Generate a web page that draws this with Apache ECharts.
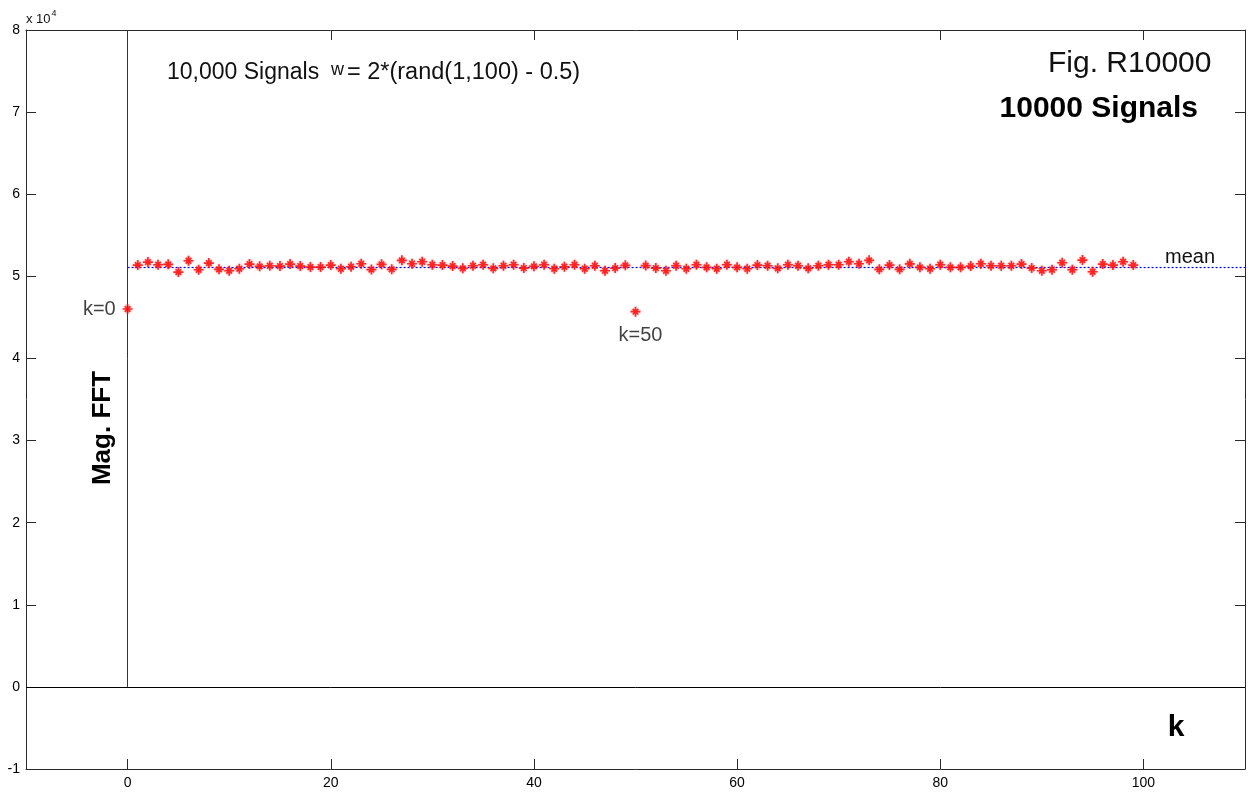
<!DOCTYPE html>
<html>
<head>
<meta charset="utf-8">
<title>Mag. FFT - 10000 Signals</title>
<script src="https://cdn.jsdelivr.net/npm/echarts@6/dist/echarts.min.js"></script>
<style>
  html, body { margin: 0; padding: 0; background: #fff; }
  #chart { width: 1249px; height: 794px; }
</style>
</head>
<body>
<div id="chart"></div>
<script>
// FFT magnitude for each bin k = 0..99 (averaged over 10000 random signals)
const magnitudes = [
  46020, 51373, 51738, 51409, 51458, 50521, 51896, 50801, 51616, 50850,
  50679, 50923, 51494, 51215, 51288, 51251, 51494, 51251, 51130, 51130,
  51373, 50923, 51166, 51531, 50825, 51458, 50850, 51945, 51531, 51774,
  51409, 51373, 51251, 50971, 51288, 51409, 50971, 51288, 51409, 51008,
  51215, 51409, 50923, 51166, 51409, 50923, 51288, 50679, 51008, 51336,
  45692, 51312, 51008, 50679, 51288, 50923, 51409, 51093, 50923, 51409,
  51093, 50923, 51373, 51288, 50971, 51409, 51288, 50971, 51288, 51409,
  51409, 51774, 51531, 51945, 50850, 51373, 50850, 51519, 51093, 50923,
  51409, 51093, 51093, 51251, 51531, 51288, 51288, 51288, 51494, 51008,
  50679, 50801, 51653, 50801, 51981, 50558, 51494, 51373, 51774, 51373
];
const meanValue = 51050;
const xTicks = [0, 20, 40, 60, 80, 100];
const yTicks = [-1, 0, 1, 2, 3, 4, 5, 6, 7, 8];
const yScale = 10000;
const labelledBins = { 0: 'k=0', 50: 'k=50' };

const FONT = '"Liberation Sans", Arial, sans-serif';
const AXIS_COLOR = '#2a2a2a';

const points = magnitudes.map((v, k) => {
  const item = { value: [k, v] };
  if (labelledBins[k] !== undefined) {
    item.label = k === 0
      ? { show: true, position: 'left', distance: 6, formatter: labelledBins[k],
          fontSize: 20, fontFamily: FONT, color: '#111' }
      : { show: true, position: 'bottom', distance: 8, offset: [5, 0], formatter: labelledBins[k],
          fontSize: 20, fontFamily: FONT, color: '#111' };
  }
  return item;
});

// '*' marker: strong plus with short diagonals
const asterisk = 'path://M5,0L5,10M0,5L10,5M2.2,2.2L7.8,7.8M7.8,2.2L2.2,7.8';

const chart = echarts.init(document.getElementById('chart'), null, { renderer: 'canvas' });

const xBase = {
  type: 'value', min: -10, max: 110,
  splitLine: { show: false },
  axisLine: { show: true, onZero: false, lineStyle: { color: AXIS_COLOR, width: 1 } },
  axisTick: { show: true, inside: true, length: 10, customValues: xTicks,
              lineStyle: { color: AXIS_COLOR } }
};
const yBase = {
  type: 'value', min: yTicks[0] * yScale, max: yTicks[yTicks.length - 1] * yScale, interval: yScale,
  splitLine: { show: false },
  axisLine: { show: true, onZero: false, lineStyle: { color: AXIS_COLOR, width: 1 } },
  axisTick: { show: true, inside: true, length: 10, lineStyle: { color: AXIS_COLOR } }
};

chart.setOption({
  animation: false,
  backgroundColor: '#fff',
  grid: { left: 26, right: 4, top: 30, bottom: 25, containLabel: false },
  xAxis: [
    Object.assign({}, xBase, {
      position: 'bottom',
      axisLabel: { show: true, customValues: xTicks, margin: 7, fontSize: 14,
                   fontFamily: FONT, color: '#000' }
    }),
    Object.assign({}, xBase, { position: 'top', axisLabel: { show: false } })
  ],
  yAxis: [
    Object.assign({}, yBase, {
      position: 'left',
      axisLabel: { show: true, margin: 6, fontSize: 14, fontFamily: FONT, color: '#000',
                   formatter: v => String(Math.round(v / yScale)) }
    }),
    Object.assign({}, yBase, { position: 'right', axisLabel: { show: false } })
  ],
  series: [
    {
      name: 'Mag. FFT',
      type: 'scatter',
      xAxisIndex: 0,
      yAxisIndex: 0,
      symbol: asterisk,
      symbolSize: 10,
      itemStyle: {
        color: 'rgba(255,0,0,0)', borderColor: '#ff0000', borderWidth: 1.7,
        shadowBlur: 2, shadowColor: 'rgba(255,80,80,0.6)'
      },
      data: points,
      z: 5,
      markLine: {
        silent: true,
        symbol: ['none', 'none'],
        label: { show: false },
        data: [
          // horizontal zero line
          [
            { coord: [-10, 0], lineStyle: { color: '#000', width: 1, type: 'solid' } },
            { coord: [110, 0] }
          ],
          // vertical line at k = 0
          [
            { coord: [0, 0], lineStyle: { color: '#333', width: 1, type: 'solid' } },
            { coord: [0, yTicks[yTicks.length - 1] * yScale] }
          ],
          // mean level
          [
            { coord: [0, meanValue], lineStyle: { color: '#0000ff', width: 1.2, type: [2, 2] } },
            { coord: [110, meanValue] }
          ]
        ]
      }
    }
  ],
  graphic: [
    {
      type: 'text', left: 26, top: 9,
      style: {
        text: '{a|x 10}{b|4}', fontFamily: FONT,
        rich: {
          a: { fontSize: 13, fill: '#111', fontFamily: FONT, verticalAlign: 'bottom', padding: [4, 0, 0, 0] },
          b: { fontSize: 9, fill: '#111', fontFamily: FONT, verticalAlign: 'top', padding: [0, 0, 6, 1] }
        }
      }
    },
    {
      type: 'text', x: 167, y: 73,
      style: { text: '10,000 Signals', fontSize: 23, fontFamily: FONT, fill: '#111',
               align: 'left', verticalAlign: 'middle' }
    },
    {
      type: 'text', x: 331, y: 70,
      style: { text: 'w', fontSize: 18, fontFamily: FONT, fill: '#111',
               align: 'left', verticalAlign: 'middle' }
    },
    {
      type: 'text', x: 347, y: 73,
      style: { text: '= 2*(rand(1,100) - 0.5)', fontSize: 23.5, fontFamily: FONT, fill: '#111',
               align: 'left', verticalAlign: 'middle' }
    },
    {
      type: 'text', x: 1048, y: 64,
      style: { text: 'Fig. R10000', fontSize: 30, fontFamily: FONT, fill: '#111',
               align: 'left', verticalAlign: 'middle' }
    },
    {
      type: 'text', x: 1198, y: 109,
      style: { text: '10000 Signals', fontSize: 30, fontWeight: 'bold', fontFamily: FONT, fill: '#000',
               align: 'right', verticalAlign: 'middle' }
    },
    {
      type: 'text', x: 1165, y: 257,
      style: { text: 'mean', fontSize: 20, fontFamily: FONT, fill: '#111',
               align: 'left', verticalAlign: 'middle' }
    },
    {
      type: 'text', x: 103, y: 428, rotation: Math.PI / 2,
      style: { text: 'Mag. FFT', fontSize: 26, fontWeight: 'bold', fontFamily: FONT, fill: '#000',
               align: 'center', verticalAlign: 'middle' }
    },
    {
      type: 'text', x: 1176, y: 728,
      style: { text: 'k', fontSize: 30, fontWeight: 'bold', fontFamily: FONT, fill: '#000',
               align: 'center', verticalAlign: 'middle' }
    }
  ]
});
</script>
</body>
</html>
